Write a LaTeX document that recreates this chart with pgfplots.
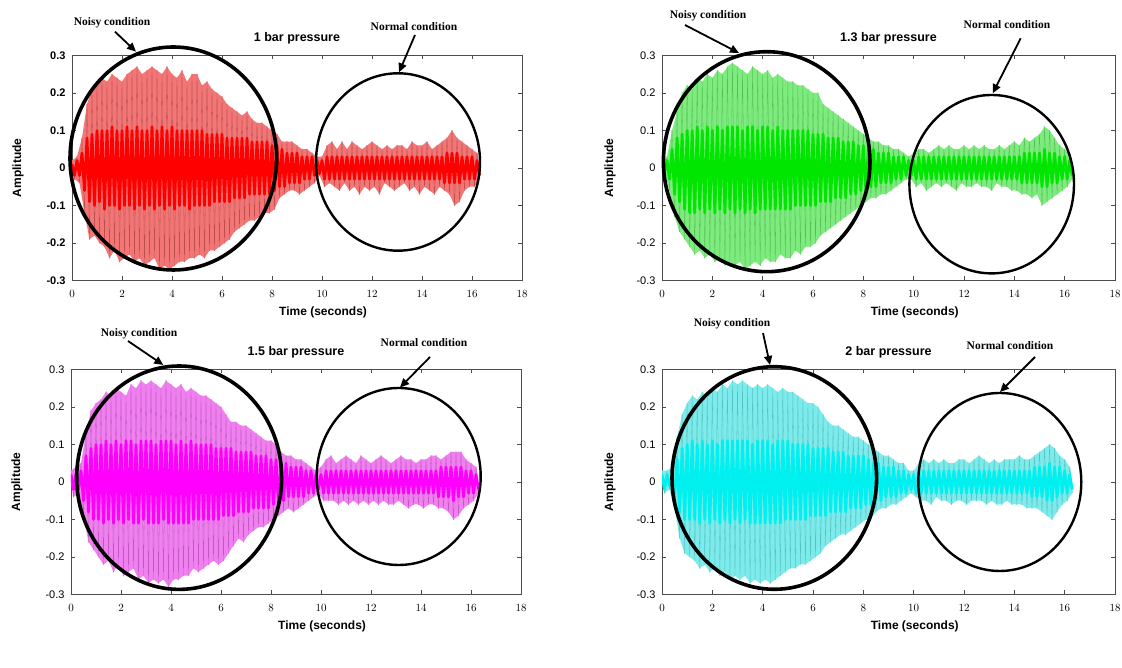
\documentclass[border=0pt]{standalone}
\usepackage{fontspec}
\setmainfont{Liberation Sans}
\newfontfamily\timesfont{Liberation Serif}
\usepackage{pgfplots}
\pgfplotsset{compat=1.18}
\usepackage{pgfplotstable}
\usetikzlibrary{arrows.meta}

\definecolor{redL}{RGB}{242,118,118}
\definecolor{redD}{RGB}{110,20,20}
\definecolor{redC}{RGB}{255,0,0}
\definecolor{grnL}{RGB}{125,235,125}
\definecolor{grnD}{RGB}{30,120,30}
\definecolor{grnC}{RGB}{0,230,0}
\definecolor{magL}{RGB}{240,128,240}
\definecolor{magD}{RGB}{120,30,120}
\definecolor{magC}{RGB}{255,0,255}
\definecolor{cyaL}{RGB}{125,235,235}
\definecolor{cyaD}{RGB}{30,130,130}
\definecolor{cyaC}{RGB}{0,240,240}

\pgfplotstableread{
t rz rc gz gc mz mc cz cc
0.0 0.02 0.01 0.01 0.01 0.03 0.02 0.03 0.02
0.1 -0.03 -0.02 -0.01 -0.01 -0.04 -0.02 -0.03 -0.02
0.2 0.03 0.02 0.03 0.02 0.04 0.02 0.03 0.02
0.3 -0.04 -0.02 -0.06 -0.03 -0.03 -0.02 -0.02 -0.01
0.4 0.08 0.04 0.1 0.05 0.05 0.03 0.04 0.02
0.5 -0.12 -0.06 -0.13 -0.07 -0.09 -0.05 -0.07 -0.04
0.6 0.17 0.08 0.15 0.08 0.13 0.07 0.12 0.06
0.7 -0.19 -0.09 -0.17 -0.09 -0.16 -0.08 -0.15 -0.08
0.8 0.21 0.09 0.2 0.09 0.19 0.09 0.18 0.09
0.9 -0.18 -0.1 -0.19 -0.11 -0.18 -0.1 -0.19 -0.1
1.0 0.22 0.1 0.22 0.1 0.21 0.1 0.21 0.1
1.1 -0.2 -0.09 -0.21 -0.12 -0.2 -0.1 -0.2 -0.1
1.2 0.24 0.1 0.21 0.1 0.22 0.1 0.23 0.11
1.3 -0.21 -0.11 -0.23 -0.12 -0.22 -0.11 -0.21 -0.1
1.4 0.23 0.1 0.24 0.11 0.24 0.11 0.22 0.1
1.5 -0.24 -0.1 -0.22 -0.11 -0.21 -0.1 -0.23 -0.11
1.6 0.25 0.11 0.23 0.1 0.23 0.1 0.24 0.11
1.7 -0.22 -0.1 -0.24 -0.12 -0.24 -0.11 -0.22 -0.1
1.8 0.24 0.1 0.25 0.11 0.25 0.11 0.23 0.1
1.9 -0.25 -0.11 -0.23 -0.11 -0.22 -0.1 -0.24 -0.11
2.0 0.23 0.1 0.24 0.1 0.24 0.1 0.25 0.11
2.1 -0.24 -0.1 -0.25 -0.12 -0.25 -0.11 -0.23 -0.1
2.2 0.25 0.11 0.26 0.11 0.23 0.11 0.24 0.1
2.3 -0.23 -0.1 -0.24 -0.11 -0.24 -0.1 -0.25 -0.11
2.4 0.26 0.1 0.25 0.1 0.26 0.11 0.26 0.11
2.5 -0.25 -0.11 -0.26 -0.12 -0.23 -0.11 -0.24 -0.1
2.6 0.27 0.11 0.27 0.11 0.25 0.1 0.25 0.11
2.7 -0.24 -0.1 -0.25 -0.11 -0.26 -0.11 -0.26 -0.11
2.8 0.25 0.1 0.28 0.11 0.27 0.11 0.27 0.11
2.9 -0.26 -0.11 -0.26 -0.12 -0.25 -0.1 -0.25 -0.1
3.0 0.26 0.1 0.27 0.11 0.26 0.11 0.26 0.11
3.1 -0.25 -0.1 -0.25 -0.11 -0.27 -0.11 -0.26 -0.11
3.2 0.27 0.11 0.26 0.1 0.27 0.11 0.27 0.11
3.3 -0.24 -0.11 -0.27 -0.12 -0.26 -0.11 -0.25 -0.1
3.4 0.26 0.1 0.25 0.11 0.26 0.1 0.26 0.11
3.5 -0.27 -0.1 -0.26 -0.11 -0.27 -0.11 -0.27 -0.11
3.6 0.25 0.11 0.27 0.11 0.25 0.11 0.25 0.1
3.7 -0.26 -0.11 -0.25 -0.12 -0.26 -0.1 -0.26 -0.11
3.8 0.27 0.1 0.26 0.1 0.27 0.11 0.26 0.11
3.9 -0.27 -0.1 -0.26 -0.11 -0.28 -0.11 -0.27 -0.11
4.0 0.25 0.11 0.25 0.11 0.26 0.11 0.25 0.11
4.1 -0.26 -0.11 -0.24 -0.11 -0.26 -0.11 -0.26 -0.11
4.2 0.24 0.1 0.26 0.11 0.25 0.1 0.26 0.11
4.3 -0.25 -0.1 -0.25 -0.11 -0.26 -0.11 -0.27 -0.11
4.4 0.26 0.1 0.24 0.1 0.26 0.11 0.25 0.1
4.5 -0.25 -0.1 -0.25 -0.11 -0.25 -0.11 -0.26 -0.11
4.6 0.23 0.1 0.25 0.11 0.24 0.1 0.24 0.11
4.7 -0.24 -0.11 -0.23 -0.11 -0.25 -0.11 -0.25 -0.11
4.8 0.25 0.1 0.24 0.1 0.25 0.11 0.25 0.11
4.9 -0.24 -0.1 -0.24 -0.11 -0.23 -0.1 -0.24 -0.1
5.0 0.25 0.1 0.23 0.1 0.24 0.1 0.24 0.11
5.1 -0.23 -0.1 -0.24 -0.11 -0.24 -0.1 -0.23 -0.1
5.2 0.22 0.1 0.23 0.1 0.23 0.1 0.24 0.1
5.3 -0.24 -0.1 -0.22 -0.1 -0.23 -0.1 -0.23 -0.1
5.4 0.23 0.09 0.22 0.1 0.23 0.1 0.23 0.1
5.5 -0.22 -0.1 -0.23 -0.1 -0.22 -0.1 -0.22 -0.1
5.6 0.21 0.09 0.22 0.1 0.22 0.1 0.22 0.1
5.7 -0.22 -0.09 -0.21 -0.1 -0.21 -0.1 -0.22 -0.1
5.8 0.2 0.09 0.21 0.1 0.21 0.09 0.21 0.1
5.9 -0.21 -0.09 -0.21 -0.1 -0.22 -0.1 -0.21 -0.09
6.0 0.19 0.09 0.2 0.09 0.2 0.09 0.21 0.09
6.1 -0.2 -0.09 -0.2 -0.1 -0.21 -0.09 -0.2 -0.09
6.2 0.17 0.08 0.2 0.09 0.18 0.09 0.2 0.09
6.3 -0.19 -0.09 -0.18 -0.09 -0.19 -0.09 -0.19 -0.09
6.4 0.16 0.08 0.17 0.09 0.16 0.09 0.18 0.09
6.5 -0.17 -0.08 -0.17 -0.09 -0.17 -0.09 -0.17 -0.09
6.6 0.15 0.08 0.16 0.08 0.16 0.08 0.16 0.09
6.7 -0.16 -0.08 -0.16 -0.09 -0.15 -0.08 -0.16 -0.08
6.8 0.14 0.08 0.15 0.08 0.15 0.08 0.15 0.08
6.9 -0.15 -0.08 -0.15 -0.08 -0.16 -0.08 -0.15 -0.08
7.0 0.15 0.08 0.14 0.08 0.15 0.08 0.15 0.08
7.1 -0.14 -0.07 -0.14 -0.08 -0.14 -0.08 -0.14 -0.08
7.2 0.13 0.07 0.13 0.07 0.14 0.08 0.14 0.08
7.3 -0.14 -0.07 -0.13 -0.08 -0.13 -0.07 -0.14 -0.08
7.4 0.12 0.07 0.12 0.07 0.13 0.07 0.13 0.07
7.5 -0.13 -0.07 -0.12 -0.07 -0.12 -0.07 -0.13 -0.07
7.6 0.12 0.07 0.11 0.07 0.12 0.07 0.12 0.07
7.7 -0.12 -0.07 -0.11 -0.07 -0.12 -0.07 -0.12 -0.07
7.8 0.11 0.07 0.1 0.06 0.11 0.07 0.12 0.07
7.9 -0.12 -0.07 -0.1 -0.06 -0.11 -0.07 -0.11 -0.07
8.0 0.1 0.06 0.09 0.06 0.11 0.06 0.11 0.07
8.1 -0.11 -0.06 -0.09 -0.06 -0.1 -0.06 -0.1 -0.06
8.2 0.09 0.06 0.08 0.05 0.1 0.06 0.1 0.06
8.3 -0.08 -0.05 -0.08 -0.05 -0.09 -0.06 -0.1 -0.06
8.4 0.07 0.05 0.07 0.05 0.08 0.05 0.09 0.05
8.5 -0.07 -0.05 -0.08 -0.05 -0.08 -0.05 -0.08 -0.05
8.6 0.07 0.04 0.07 0.04 0.07 0.05 0.08 0.05
8.7 -0.06 -0.04 -0.07 -0.04 -0.07 -0.04 -0.07 -0.05
8.8 0.07 0.04 0.06 0.04 0.07 0.04 0.07 0.04
8.9 -0.06 -0.04 -0.07 -0.04 -0.08 -0.04 -0.07 -0.04
9.0 0.06 0.04 0.06 0.04 0.06 0.04 0.07 0.04
9.1 -0.07 -0.04 -0.06 -0.04 -0.07 -0.04 -0.06 -0.04
9.2 0.05 0.03 0.05 0.03 0.06 0.04 0.06 0.04
9.3 -0.06 -0.03 -0.05 -0.03 -0.06 -0.04 -0.06 -0.04
9.4 0.05 0.03 0.05 0.03 0.05 0.03 0.05 0.03
9.5 -0.05 -0.03 -0.04 -0.03 -0.05 -0.03 -0.05 -0.03
9.6 0.04 0.03 0.04 0.03 0.04 0.03 0.05 0.03
9.7 -0.04 -0.02 -0.03 -0.02 -0.04 -0.03 -0.04 -0.03
9.8 0.03 0.02 0.03 0.02 0.03 0.02 0.03 0.02
9.9 -0.02 -0.015 -0.03 -0.02 -0.03 -0.02 -0.03 -0.02
10.0 0.03 0.02 0.04 0.02 0.04 0.02 0.03 0.02
10.1 -0.05 -0.03 -0.05 -0.03 -0.05 -0.03 -0.04 -0.03
10.2 0.06 0.03 0.05 0.03 0.06 0.03 0.05 0.03
10.3 -0.04 -0.03 -0.04 -0.03 -0.05 -0.03 -0.05 -0.03
10.4 0.07 0.03 0.05 0.03 0.07 0.03 0.06 0.03
10.5 -0.05 -0.03 -0.06 -0.03 -0.05 -0.03 -0.05 -0.03
10.6 0.05 0.03 0.04 0.03 0.05 0.03 0.05 0.03
10.7 -0.06 -0.03 -0.05 -0.03 -0.06 -0.03 -0.06 -0.03
10.8 0.07 0.03 0.05 0.03 0.06 0.03 0.06 0.03
10.9 -0.04 -0.03 -0.04 -0.03 -0.05 -0.03 -0.04 -0.03
11.0 0.05 0.03 0.06 0.03 0.07 0.03 0.05 0.03
11.1 -0.06 -0.03 -0.05 -0.03 -0.06 -0.03 -0.05 -0.03
11.2 0.07 0.03 0.05 0.03 0.06 0.03 0.06 0.03
11.3 -0.05 -0.03 -0.04 -0.03 -0.05 -0.03 -0.05 -0.03
11.4 0.06 0.03 0.06 0.03 0.05 0.03 0.05 0.03
11.5 -0.07 -0.03 -0.05 -0.03 -0.06 -0.03 -0.06 -0.03
11.6 0.05 0.03 0.05 0.03 0.07 0.03 0.05 0.03
11.7 -0.05 -0.03 -0.06 -0.03 -0.05 -0.03 -0.05 -0.03
11.8 0.06 0.03 0.05 0.03 0.06 0.03 0.06 0.03
11.9 -0.06 -0.03 -0.04 -0.03 -0.06 -0.03 -0.05 -0.03
12.0 0.07 0.03 0.06 0.03 0.05 0.03 0.06 0.03
12.1 -0.05 -0.03 -0.05 -0.03 -0.05 -0.03 -0.06 -0.03
12.2 0.06 0.03 0.05 0.03 0.06 0.03 0.05 0.03
12.3 -0.07 -0.03 -0.05 -0.03 -0.06 -0.03 -0.05 -0.03
12.4 0.05 0.03 0.06 0.03 0.07 0.03 0.06 0.03
12.5 -0.04 -0.03 -0.04 -0.03 -0.05 -0.03 -0.05 -0.03
12.6 0.06 0.03 0.05 0.03 0.06 0.03 0.07 0.03
12.7 -0.05 -0.03 -0.05 -0.03 -0.06 -0.03 -0.05 -0.03
12.8 0.05 0.03 0.06 0.03 0.05 0.03 0.06 0.03
12.9 -0.06 -0.03 -0.05 -0.03 -0.06 -0.03 -0.06 -0.03
13.0 0.06 0.03 0.05 0.03 0.06 0.03 0.05 0.03
13.1 -0.05 -0.03 -0.06 -0.03 -0.05 -0.03 -0.05 -0.03
13.2 0.06 0.03 0.05 0.03 0.07 0.03 0.06 0.03
13.3 -0.04 -0.03 -0.04 -0.03 -0.06 -0.03 -0.06 -0.03
13.4 0.05 0.03 0.06 0.03 0.06 0.03 0.05 0.03
13.5 -0.06 -0.03 -0.05 -0.03 -0.07 -0.03 -0.06 -0.03
13.6 0.07 0.03 0.05 0.03 0.06 0.03 0.06 0.03
13.7 -0.05 -0.03 -0.05 -0.03 -0.06 -0.03 -0.05 -0.03
13.8 0.06 0.03 0.06 0.03 0.05 0.03 0.06 0.03
13.9 -0.07 -0.03 -0.06 -0.03 -0.06 -0.03 -0.06 -0.03
14.0 0.06 0.03 0.07 0.03 0.06 0.03 0.06 0.03
14.1 -0.05 -0.03 -0.06 -0.03 -0.07 -0.03 -0.06 -0.03
14.2 0.07 0.03 0.06 0.03 0.06 0.03 0.07 0.03
14.3 -0.06 -0.03 -0.07 -0.04 -0.06 -0.03 -0.06 -0.03
14.4 0.05 0.03 0.08 0.04 0.07 0.03 0.06 0.03
14.5 -0.07 -0.03 -0.07 -0.04 -0.06 -0.03 -0.07 -0.03
14.6 0.06 0.03 0.07 0.04 0.07 0.03 0.06 0.03
14.7 -0.05 -0.03 -0.08 -0.04 -0.07 -0.04 -0.07 -0.04
14.8 0.07 0.03 0.08 0.04 0.06 0.04 0.07 0.04
14.9 -0.06 -0.04 -0.07 -0.04 -0.07 -0.04 -0.07 -0.04
15.0 0.08 0.04 0.09 0.04 0.07 0.04 0.08 0.04
15.1 -0.07 -0.04 -0.1 -0.05 -0.08 -0.04 -0.08 -0.04
15.2 0.1 0.04 0.11 0.05 0.08 0.04 0.09 0.04
15.3 -0.1 -0.04 -0.09 -0.05 -0.1 -0.05 -0.09 -0.05
15.4 0.08 0.04 0.1 0.04 0.08 0.04 0.1 0.05
15.5 -0.09 -0.04 -0.08 -0.04 -0.09 -0.04 -0.1 -0.05
15.6 0.07 0.03 0.08 0.04 0.08 0.04 0.09 0.04
15.7 -0.06 -0.03 -0.07 -0.04 -0.07 -0.04 -0.08 -0.04
15.8 0.06 0.03 0.06 0.03 0.06 0.03 0.07 0.04
15.9 -0.05 -0.03 -0.06 -0.03 -0.06 -0.03 -0.06 -0.03
16.0 0.05 0.03 0.05 0.03 0.05 0.03 0.06 0.03
16.1 -0.05 -0.03 -0.05 -0.03 -0.05 -0.03 -0.05 -0.03
16.2 0.04 0.02 0.04 0.02 0.04 0.02 0.04 0.02
16.3 -0.03 -0.02 -0.03 -0.02 -0.03 -0.02 -0.03 -0.02
}\sig

\pgfplotsset{
  sigax/.style={
    scale only axis, height=225pt,
    anchor=south west,
    xmin=0, xmax=18, ymin=-0.3, ymax=0.3,
    xtick={0,2,4,6,8,10,12,14,16,18},
    ytick={-0.3,-0.2,-0.1,0,0.1,0.2,0.3},
    yticklabels={-0.3,-0.2,-0.1,0,0.1,0.2,0.3},
    xtick pos=both, ytick pos=both,
    tick align=inside,
    major tick length=4pt,
    axis line style={draw=black!70, line width=0.7pt},
    every tick/.style={draw=black!70, line width=0.6pt},
    ticklabel style={font=\fontsize{11}{13}\selectfont},
    xticklabel style={yshift=-6pt},
    yticklabel style={xshift=-3pt},
    xlabel={Time (seconds)}, ylabel={Amplitude},
    xlabel style={font=\bfseries\fontsize{12}{14}\selectfont, at={(axis description cs:0.558,-0.142)}, anchor=center},
    ylabel style={font=\bfseries\fontsize{12}{14}\selectfont, anchor=center},
    title style={font=\bfseries\fontsize{12.5}{14}\selectfont, at={(axis description cs:0.5,1)}, anchor=center, yshift=11pt},
  },
  evenrows/.style={draw=none, x filter/.code={\ifodd\coordindex\relax\def\pgfmathresult{}\fi}},
  oddrows/.style={draw=none, x filter/.code={\ifodd\coordindex\relax\else\def\pgfmathresult{}\fi}},
  outerL/.style={line width=1.2pt, line join=round},
  outerD/.style={line width=0.3pt, opacity=0.4, line join=round},
  coreS/.style={line width=2.8pt, line join=round},
}

\tikzset{
  noisy/.style={draw=black, line width=3.6pt},
  normal/.style={draw=black, line width=2.4pt},
  arr/.style={draw=black, line width=1.8pt, -{Triangle[length=9pt,width=8pt]}},
  lab/.style={font=\timesfont\bfseries\fontsize{11.5}{13}\selectfont, inner sep=0pt},
}

\begin{document}
\begin{tikzpicture}[x=1pt,y=1pt]
\useasboundingbox (0,0) rectangle (1122,668);

% top-left
\begin{axis}[sigax, at={(72pt,387.5pt)}, width=450pt, title={1 bar pressure},
  ylabel style={at={(axis description cs:-0.12,0.5)}},
  ticklabel style={font=\bfseries\fontsize{11}{13}\selectfont}]
\addplot[evenrows, fill=redL] table[x=t,y=rz]{\sig} \closedcycle;
\addplot[oddrows, fill=redL] table[x=t,y=rz]{\sig} \closedcycle;
\addplot[draw=redL, outerL] table[x=t,y=rz]{\sig};
\addplot[draw=redD, outerD] table[x=t,y=rz]{\sig};
\addplot[draw=redC, coreS] table[x=t,y=rc]{\sig};
\end{axis}

% top-right
\begin{axis}[sigax, at={(662pt,387.5pt)}, width=453pt, title={1.3 bar pressure},
  ylabel style={at={(axis description cs:-0.115,0.5)}}]
\addplot[evenrows, fill=grnL] table[x=t,y=gz]{\sig} \closedcycle;
\addplot[oddrows, fill=grnL] table[x=t,y=gz]{\sig} \closedcycle;
\addplot[draw=grnL, outerL] table[x=t,y=gz]{\sig};
\addplot[draw=grnD, outerD] table[x=t,y=gz]{\sig};
\addplot[draw=grnC, coreS] table[x=t,y=gc]{\sig};
\end{axis}

% bottom-left
\begin{axis}[sigax, at={(71pt,73.5pt)}, width=450pt, title={1.5 bar pressure},
  ylabel style={at={(axis description cs:-0.12,0.5)}}]
\addplot[evenrows, fill=magL] table[x=t,y=mz]{\sig} \closedcycle;
\addplot[oddrows, fill=magL] table[x=t,y=mz]{\sig} \closedcycle;
\addplot[draw=magL, outerL] table[x=t,y=mz]{\sig};
\addplot[draw=magD, outerD] table[x=t,y=mz]{\sig};
\addplot[draw=magC, coreS] table[x=t,y=mc]{\sig};
\end{axis}

% bottom-right
\begin{axis}[sigax, at={(662pt,73.5pt)}, width=453pt, title={2 bar pressure},
  ylabel style={at={(axis description cs:-0.115,0.5)}}]
\addplot[evenrows, fill=cyaL] table[x=t,y=cz]{\sig} \closedcycle;
\addplot[oddrows, fill=cyaL] table[x=t,y=cz]{\sig} \closedcycle;
\addplot[draw=cyaL, outerL] table[x=t,y=cz]{\sig};
\addplot[draw=cyaD, outerD] table[x=t,y=cz]{\sig};
\addplot[draw=cyaC, coreS] table[x=t,y=cc]{\sig};
\end{axis}

% annotations top-left
\draw[noisy] (173.3,509.5) ellipse [x radius=103.3, y radius=111.5];
\draw[normal] (398,506) ellipse [x radius=82, y radius=88.7];
\node[lab] at (112,645) {Noisy condition};
\draw[arr] (115,636.3) -- (136,616.3);
\node[lab] at (414,641) {Normal condition};
\draw[arr] (415,633) -- (399,595.7);

% annotations top-right
\draw[noisy] (766.7,506.3) ellipse [x radius=103.3, y radius=110];
\draw[normal] (991.7,483.8) ellipse [x radius=82.3, y radius=89.2];
\node[lab] at (708,652) {Noisy condition};
\draw[arr] (685,643) -- (739,615);
\node[lab] at (1007,643) {Normal condition};
\draw[arr] (1020.7,629.7) -- (992.7,574.7);

% annotations bottom-left
\draw[noisy] (179.2,190.3) ellipse [x radius=102.5, y radius=111.7];
\draw[normal] (398.7,191.5) ellipse [x radius=82, y radius=88.5];
\node[lab] at (139,334) {Noisy condition};
\draw[arr] (128,327) -- (163.3,303);
\node[lab] at (424,325) {Normal condition};
\draw[arr] (430,311) -- (400,280.5);

% annotations bottom-right
\draw[noisy] (774.3,190) ellipse [x radius=102.3, y radius=111.3];
\draw[normal] (999.8,186) ellipse [x radius=81.5, y radius=89];
\node[lab] at (732,344) {Noisy condition};
\draw[arr] (763,335) -- (770,303);
\node[lab] at (1010,322) {Normal condition};
\draw[arr] (1035,311) -- (1000,276);
\end{tikzpicture}
\end{document}
